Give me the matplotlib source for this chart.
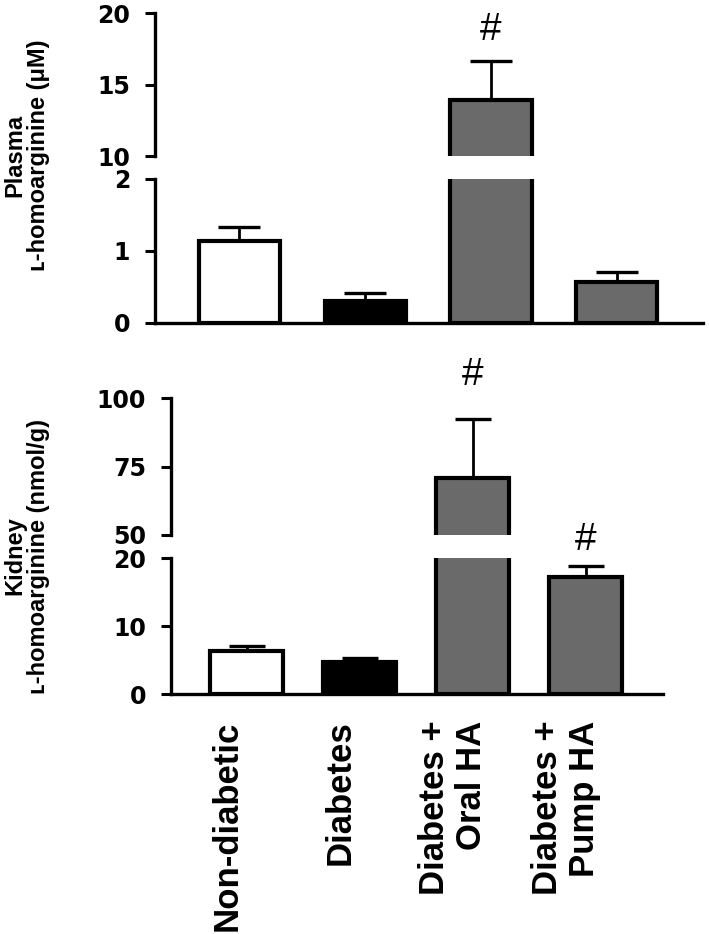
import matplotlib.pyplot as plt
from matplotlib.transforms import ScaledTranslation

groups = ["Non-diabetic", "Diabetes", "Diabetes +\nOral HA", "Diabetes +\nPump HA"]
colors = ["white", "black", "#6a6a6a", "#6a6a6a"]

plasma_mean = [1.14, 0.30, 13.9, 0.57]
plasma_err = [0.20, 0.11, 2.75, 0.14]
plasma_sig = [False, False, True, False]

kidney_mean = [6.3, 4.7, 70.8, 17.2]
kidney_err = [0.7, 0.6, 21.5, 1.6]
kidney_sig = [False, False, True, True]

plt.rcParams['font.family'] = ['Liberation Sans', 'DejaVu Sans']

W, H = 709, 934
fig = plt.figure(figsize=(W / 100, H / 100), dpi=100)


def px_axes(x0, x1, ytop, ybot):
    return fig.add_axes([x0 / W, 1 - ybot / H, (x1 - x0) / W, (ybot - ytop) / H])


x = list(range(len(groups)))


def draw(ax, means, errs, capsize):
    ax.bar(x, means, width=0.645, color=colors, edgecolor="black", linewidth=3.0,
           zorder=2)
    ax.errorbar(x, means, yerr=[[0] * len(errs), errs], fmt="none", ecolor="black",
                elinewidth=2, capsize=capsize, capthick=2.4, zorder=1)
    ax.set_xlim(-0.67, 3.685)
    ax.spines["top"].set_visible(False)
    ax.spines["right"].set_visible(False)
    ax.spines["left"].set_linewidth(2.4)
    ax.spines["bottom"].set_linewidth(2.4)
    ax.tick_params(axis="y", length=7, width=2.2, pad=11, labelsize=17)
    ax.tick_params(axis="x", length=0)


def fix_yticks(ax):
    for lab in ax.get_yticklabels():
        lab.set_fontweight("bold")
        lab.set_family("DejaVu Sans")


def mark(ax, xi, top, offset):
    ax.annotate("#", xy=(xi, top), xytext=(0, offset), textcoords="offset points",
                ha="center", va="center", fontsize=28, annotation_clip=False)


# Plasma panel
ax1h = px_axes(155, 703, 13, 156)
ax1l = px_axes(155, 703, 179, 323)
for ax in (ax1h, ax1l):
    draw(ax, plasma_mean, plasma_err, 15)
ax1h.set_ylim(10, 20)
ax1h.set_yticks([10, 15, 20])
ax1l.set_ylim(0, 2)
ax1l.set_yticks([0, 1, 2])
ax1h.spines["bottom"].set_visible(False)
ax1h.set_xticks([])
ax1l.set_xticks([])
fix_yticks(ax1h)
fix_yticks(ax1l)
for i, s in enumerate(plasma_sig):
    if s:
        mark(ax1h, x[i], plasma_mean[i] + plasma_err[i], 22)

# Kidney panel
ax2h = px_axes(171, 663, 398, 535)
ax2l = px_axes(171, 663, 558, 694)
for ax in (ax2h, ax2l):
    draw(ax, kidney_mean, kidney_err, 13)
ax2h.set_ylim(50, 100)
ax2h.set_yticks([50, 75, 100])
ax2l.set_ylim(0, 20)
ax2l.set_yticks([0, 10, 20])
ax2h.spines["bottom"].set_visible(False)
ax2h.set_xticks([])
ax2l.set_xticks(x)
ax2l.set_xticklabels(groups, rotation=90, fontsize=25, fontweight="bold",
                     va="top", ha="center", multialignment="right", linespacing=1.15)
ax2l.tick_params(axis="x", pad=19)
shift = ScaledTranslation(-20 / 100, 0, fig.dpi_scale_trans)
for lab in ax2l.get_xticklabels():
    lab.set_transform(lab.get_transform() + shift)
fix_yticks(ax2h)
fix_yticks(ax2l)
for i, s in enumerate(kidney_sig):
    if s:
        top = kidney_mean[i] + kidney_err[i]
        if top > 50:
            mark(ax2h, x[i], top, 32)
        else:
            mark(ax2l, x[i], top, 19)

# y labels
fig.text(27 / W, 1 - 155 / H, "Plasma\n\u029f-homoarginine (\u03bcM)", rotation=90,
         ha="center", va="center", multialignment="center", fontsize=17,
         fontweight="bold", linespacing=1.05)
fig.text(27 / W, 1 - 556 / H, "Kidney\n\u029f-homoarginine (nmol/g)", rotation=90,
         ha="center", va="center", multialignment="center", fontsize=17,
         fontweight="bold", linespacing=1.05)

fig.savefig("out.png", dpi=100)
